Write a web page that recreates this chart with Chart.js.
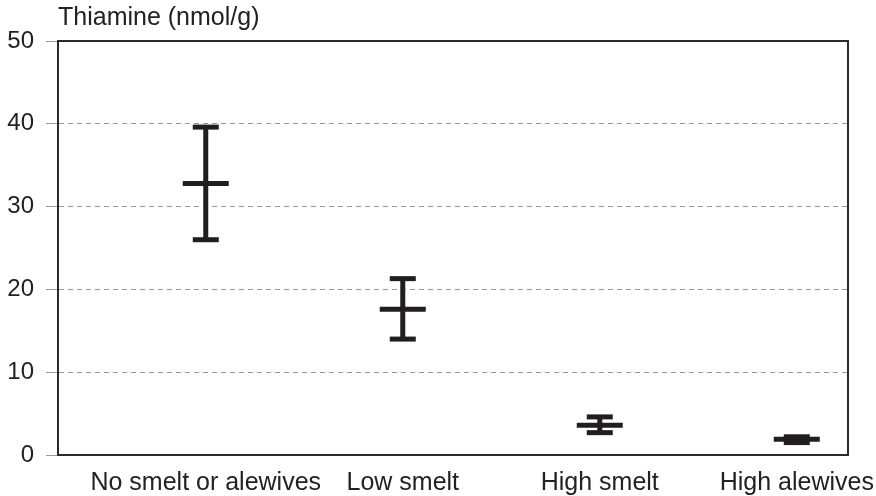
<!DOCTYPE html>
<html lang="en">
<head>
    <meta charset="UTF-8">
    <title>Thiamine (nmol/g)</title>
    <script src="https://cdn.jsdelivr.net/npm/chart.js"></script>
    <style>
        html, body {
            margin: 0;
            padding: 0;
            background: #fff;
        }
        .chart-box {
            width: 876px;
            height: 496px;
        }
    </style>
</head>
<body>

<div class="chart-box">
    <canvas id="thiamineChart"></canvas>
</div>

<script>
// categories and values
const groups = ['No smelt or alewives', 'Low smelt', 'High smelt', 'High alewives'];
const groupX = [1, 2, 3, 4];
const meanValues = [32.8, 17.6, 3.6, 1.9];
const upperValues = [39.6, 21.3, 4.6, 2.2];
const lowerValues = [26.0, 14.0, 2.7, 1.5];
const yTicks = [0, 10, 20, 30, 40, 50];

const ink = '#221e1f';
const fontFamily = "'Liberation Sans', Arial, sans-serif";

// vertical whiskers, one segment per group, broken by nulls
const whiskerPoints = [];
groupX.forEach((x, i) => {
    whiskerPoints.push({ x: x, y: lowerValues[i] });
    whiskerPoints.push({ x: x, y: upperValues[i] });
    whiskerPoints.push({ x: x, y: null });
});

const capPoints = [];
groupX.forEach((x, i) => {
    capPoints.push({ x: x, y: upperValues[i] });
    capPoints.push({ x: x, y: lowerValues[i] });
});

const meanPoints = groupX.map((x, i) => ({ x: x, y: meanValues[i] }));

// black frame round the plot area
const frame = {
    id: 'frame',
    afterDraw(chart) {
        const a = chart.chartArea;
        const ctx = chart.ctx;
        ctx.save();
        ctx.strokeStyle = '#2a2a2a';
        ctx.lineWidth = 2;
        ctx.strokeRect(a.left, a.top, a.right - a.left, a.bottom - a.top);
        ctx.restore();
    }
};

const ctx = document.getElementById('thiamineChart').getContext('2d');
new Chart(ctx, {
    type: 'scatter',
    data: {
        datasets: [{
            data: whiskerPoints,
            showLine: true,
            spanGaps: false,
            borderColor: ink,
            borderWidth: 5,
            pointRadius: 0,
            borderCapStyle: 'butt'
        }, {
            data: capPoints,
            showLine: false,
            pointStyle: 'line',
            pointRadius: 13,
            pointHoverRadius: 13,
            pointBorderWidth: 5,
            pointHoverBorderWidth: 5,
            borderColor: ink,
            pointBorderColor: ink
        }, {
            data: meanPoints,
            showLine: false,
            pointStyle: 'line',
            pointRadius: 23,
            pointHoverRadius: 23,
            pointBorderWidth: 5,
            pointHoverBorderWidth: 5,
            borderColor: ink,
            pointBorderColor: ink
        }]
    },
    options: {
        responsive: true,
        maintainAspectRatio: false,
        animation: false,
        layout: {
            padding: { top: 0, right: 26, bottom: 0, left: 0 }
        },
        plugins: {
            legend: { display: false },
            tooltip: { enabled: false },
            title: {
                display: true,
                text: 'Thiamine (nmol/g)',
                align: 'start',
                fullSize: false,
                color: '#222',
                font: { family: fontFamily, size: 25, weight: 'normal', lineHeight: 1.2 },
                padding: { top: 3, bottom: 8 }
            }
        },
        scales: {
            x: {
                type: 'linear',
                min: 0.25,
                max: 4.26,
                afterBuildTicks: (scale) => {
                    scale.ticks = groupX.map(v => ({ value: v }));
                },
                afterFit: (scale) => {
                    scale.height = 41;
                    scale.paddingLeft = 0;
                    scale.paddingRight = 0;
                },
                ticks: {
                    color: '#222',
                    padding: 5,
                    maxRotation: 0,
                    autoSkip: false,
                    font: { family: fontFamily, size: 25 },
                    callback: (value) => groups[groupX.indexOf(value)]
                },
                grid: { display: false },
                border: { display: true, color: '#2a2a2a', width: 2 }
            },
            y: {
                min: 0,
                max: 50,
                afterBuildTicks: (scale) => {
                    scale.ticks = yTicks.map(v => ({ value: v }));
                },
                afterFit: (scale) => { scale.width = 58; },
                ticks: {
                    color: '#222',
                    padding: 12,
                    font: { family: fontFamily, size: 24 }
                },
                grid: {
                    color: '#999',
                    lineWidth: 1,
                    tickLength: 12,
                    tickColor: '#999',
                    tickBorderDash: []
                },
                border: { display: true, color: '#2a2a2a', width: 2, dash: [5, 4] }
            }
        }
    },
    plugins: [frame]
});
</script>

</body>
</html>
